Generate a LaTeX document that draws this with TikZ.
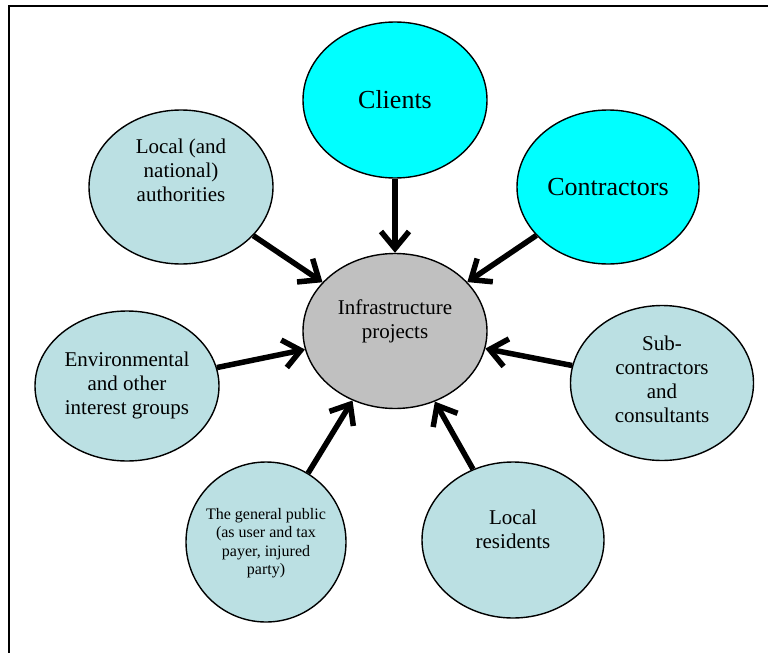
\documentclass[tikz,border=0pt]{standalone}
\usepackage{fontspec}
\setmainfont{Liberation Serif}
\usetikzlibrary{shapes.geometric,arrows.meta}
\definecolor{paleblue}{RGB}{187,224,227}
\definecolor{greyblob}{RGB}{192,192,192}
\definecolor{aqua}{RGB}{0,255,255}
\tikzset{
	blob/.style={ellipse, draw, line width=1.4pt, inner sep=0pt, minimum width=184pt, minimum height=155pt, fill=paleblue},
	txt/.style={align=center, font=\fontsize{21}{24}\selectfont},
	push/.style={line width=5.5pt, -{Straight Barb[length=17pt,width=28pt]}}
}
\begin{document}
\begin{tikzpicture}[x=1pt,y=-1pt]
	\useasboundingbox (0,0) rectangle (768,653);
	\draw[line width=2.5pt] (768,6) -- (9,6) -- (9,653);
	% the ellipses
	\node[blob,fill=greyblob] (infra) at (395,331) {};
	\node[blob,fill=aqua,minimum height=156pt] (clients) at (395,100) {};
	\node[blob,fill=aqua,minimum width=182pt,minimum height=154pt] (contr) at (608,187) {};
	\node[blob,minimum height=154pt] (auth) at (181,187) {};
	\node[blob,minimum height=150pt] (env) at (127,386) {};
	\node[blob,minimum width=183pt] (sub) at (662,383) {};
	\node[blob,minimum width=160pt,minimum height=160pt] (public) at (266,542) {};
	\node[blob,minimum width=182pt,minimum height=156pt] (resid) at (513,540) {};
	% the texts
	\node[txt] (infratxt) at (395,321) {Infrastructure\\projects};
	\node[txt,font=\fontsize{26}{30}\selectfont] (clientstxt) at (395,100) {Clients};
	\node[txt,font=\fontsize{26}{30}\selectfont] (contrtxt) at (608,187) {Contractors};
	\node[txt] (authtxt) at (181,170) {Local (and\\national)\\authorities};
	\node[txt] (envtxt) at (127,385) {Environmental\\and other\\interest groups};
	\node[txt] (subtxt) at (662,379) {Sub-\\contractors\\and\\consultants};
	\node[txt,font=\fontsize{16}{18.5}\selectfont] (publictxt) at (266,543) {The general public\\(as user and tax\\payer, injured\\party)};
	\node[txt] (residtxt) at (513,529) {Local\\residents};
	% the arrows
	\draw[push] (clients) -- (infra);
	\draw[push] (contr) -- (infra);
	\draw[push] (auth) -- (infra);
	\draw[push] (env) -- (infra);
	\draw[push] (sub) -- (infra);
	\draw[push] (public) -- (infra);
	\draw[push] (resid) -- (infra);
\end{tikzpicture}
\end{document}
